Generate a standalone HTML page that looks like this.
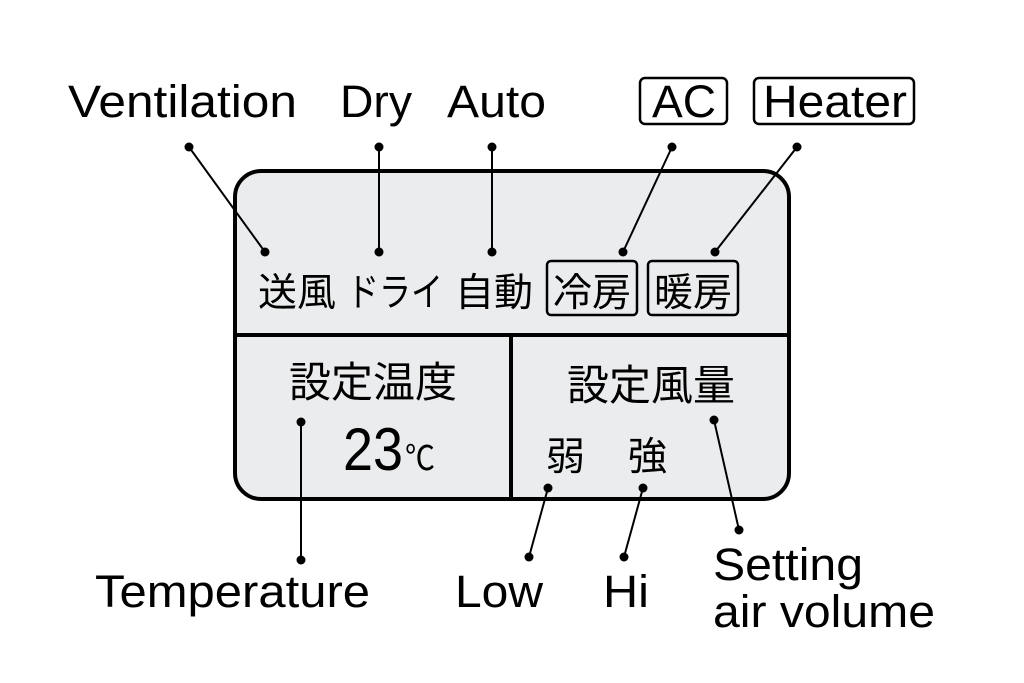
<!DOCTYPE html>
<html><head><meta charset="utf-8"><style>html,body{margin:0;padding:0;background:#fff}svg{display:block}</style></head>
<body>
<svg width="1024" height="683" viewBox="0 0 1024 683" xmlns="http://www.w3.org/2000/svg" font-family="Liberation Sans, Noto Sans CJK JP, sans-serif">
<rect x="0" y="0" width="1024" height="683" fill="#fff"/>
<rect x="235" y="171" width="554" height="328" rx="26" fill="#ebeced" stroke="#000" stroke-width="4"/>
<line x1="235" y1="335" x2="789" y2="335" stroke="#000" stroke-width="4"/>
<line x1="511" y1="335" x2="511" y2="499" stroke="#000" stroke-width="4"/>
<g font-size="45" fill="#000">
<text x="68" y="117" textLength="229" lengthAdjust="spacingAndGlyphs">Ventilation</text>
<text x="340" y="117" textLength="72" lengthAdjust="spacingAndGlyphs">Dry</text>
<text x="447" y="117" textLength="99" lengthAdjust="spacingAndGlyphs">Auto</text>
<text x="652" y="117" textLength="64" lengthAdjust="spacingAndGlyphs">AC</text>
<text x="763" y="117" textLength="144" lengthAdjust="spacingAndGlyphs">Heater</text>
<text x="95" y="607" textLength="275" lengthAdjust="spacingAndGlyphs">Temperature</text>
<text x="455" y="607" textLength="88" lengthAdjust="spacingAndGlyphs">Low</text>
<text x="603" y="607" textLength="46" lengthAdjust="spacingAndGlyphs">Hi</text>
<text x="713" y="580" textLength="150" lengthAdjust="spacingAndGlyphs">Setting</text>
<text x="713" y="627" textLength="222" lengthAdjust="spacingAndGlyphs">air volume</text>
</g>
<rect x="640" y="78" width="87" height="46" rx="5" fill="none" stroke="#000" stroke-width="2.5"/>
<rect x="754" y="78" width="160" height="46" rx="5" fill="none" stroke="#000" stroke-width="2.5"/>
<g font-size="39" fill="#000">
<text x="258" y="306">送風</text>
<text x="347" y="306" textLength="96" lengthAdjust="spacingAndGlyphs">ドライ</text>
<text x="455" y="306">自動</text>
<text x="553" y="306">冷房</text>
<text x="654" y="306">暖房</text>
<text x="289" y="397" font-size="42">設定温度</text>
<text x="567" y="400" font-size="42">設定風量</text>
<text x="546" y="470">弱</text>
<text x="628" y="470">強</text>
</g>
<text x="343" y="470" font-size="60" textLength="60" lengthAdjust="spacingAndGlyphs">23</text>
<text x="405" y="470" font-size="34" textLength="30" lengthAdjust="spacingAndGlyphs">℃</text>
<rect x="547" y="261" width="90" height="54" rx="4" fill="none" stroke="#000" stroke-width="2.5"/>
<rect x="648" y="261" width="90" height="54" rx="4" fill="none" stroke="#000" stroke-width="2.5"/>
<g stroke="#000" stroke-width="2">
<line x1="189" y1="147" x2="265" y2="252"/>
<line x1="379" y1="147" x2="379" y2="252"/>
<line x1="492" y1="147" x2="492" y2="252"/>
<line x1="672" y1="147" x2="623" y2="252"/>
<line x1="797" y1="147" x2="715" y2="252"/>
<line x1="301" y1="422" x2="301" y2="560"/>
<line x1="548" y1="488" x2="529" y2="557"/>
<line x1="643" y1="488" x2="624" y2="557"/>
<line x1="714" y1="420" x2="739" y2="530"/>
</g>
<g fill="#000">
<circle cx="189" cy="147" r="4.5"/><circle cx="265" cy="252" r="4.5"/>
<circle cx="379" cy="147" r="4.5"/><circle cx="379" cy="252" r="4.5"/>
<circle cx="492" cy="147" r="4.5"/><circle cx="492" cy="252" r="4.5"/>
<circle cx="672" cy="147" r="4.5"/><circle cx="623" cy="252" r="4.5"/>
<circle cx="797" cy="147" r="4.5"/><circle cx="715" cy="252" r="4.5"/>
<circle cx="301" cy="422" r="4.5"/><circle cx="301" cy="560" r="4.5"/>
<circle cx="548" cy="488" r="4.5"/><circle cx="529" cy="557" r="4.5"/>
<circle cx="643" cy="488" r="4.5"/><circle cx="624" cy="557" r="4.5"/>
<circle cx="714" cy="420" r="4.5"/><circle cx="739" cy="530" r="4.5"/>
</g>
</svg>
</body></html>
